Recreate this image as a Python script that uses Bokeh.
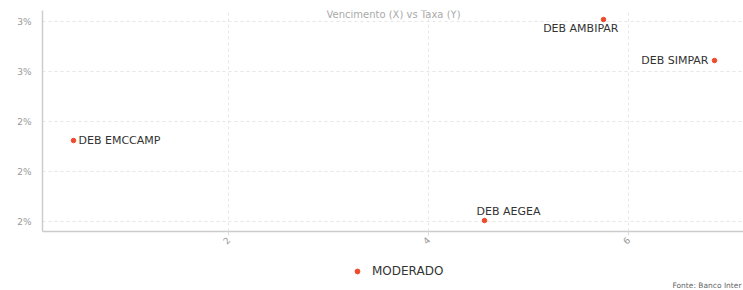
from bokeh.plotting import figure
from bokeh.layouts import column
from bokeh.models import (ColumnDataSource, Range1d, FixedTicker, PrintfTickFormatter,
                          Label, Legend, LegendItem)
from bokeh.core.properties import value
from bokeh.embed import file_html
from bokeh.resources import INLINE

# ---- data ----
names = ["DEB EMCCAMP", "DEB AEGEA", "DEB AMBIPAR", "DEB SIMPAR"]
vencimento = [0.45, 4.56, 5.75, 6.86]      # X
taxa = [2.324, 2.004, 2.808, 2.644]         # Y (%)
series_name = "MODERADO"
title_text = "Vencimento (X) vs Taxa (Y)"
source_text = "Fonte: Banco Inter"
x_ticks = [2, 4, 6]
y_ticks = [2.0, 2.2, 2.4, 2.6, 2.8]

# label placement per point (style only)
text_align = ["left", "left", "right", "right"]
x_off = [5, -8, 15, -6]
y_off = [0, -9, 9, 0]

FONT = "DejaVu Sans"
RED = "#ee4a2b"

src = ColumnDataSource(dict(x=vencimento, y=taxa, name=names, align=text_align,
                            xo=x_off, yo=y_off))

p = figure(width=743, height=255, output_backend="svg", toolbar_location=None,
           x_range=Range1d(0.14, 7.15), y_range=Range1d(1.96, 2.844),
           min_border_left=42, min_border_right=0, min_border_top=10,
           min_border_bottom=24)
p.outline_line_color = None

r = p.scatter("x", "y", source=src, size=4.5, color=RED, line_color=RED)
p.text("x", "y", text="name", source=src, text_align="align", text_baseline="middle",
       x_offset="xo", y_offset="yo", text_font=value(FONT), text_font_size="11px",
       text_color="#333333")

# axes
p.xaxis.ticker = FixedTicker(ticks=x_ticks)
p.yaxis.ticker = FixedTicker(ticks=y_ticks)
p.yaxis.formatter = PrintfTickFormatter(format="%.0f%%")
for ax in (p.xaxis[0], p.yaxis[0]):
    ax.axis_line_color = "#cccccc"
    ax.axis_line_width = 1.5
    ax.major_label_text_color = "#999999"
    ax.major_label_text_font = FONT
    ax.major_label_text_font_size = "9px"
    ax.minor_tick_line_color = None
p.yaxis.major_tick_line_color = None
p.xaxis.major_tick_line_color = "#dddddd"
p.xaxis.major_tick_in = 0
p.xaxis.major_tick_out = 4
p.xaxis.major_label_orientation = 0.8
p.xaxis.major_label_standoff = 3
p.yaxis.major_label_standoff = 5

p.xgrid.grid_line_color = "#e6e6e6"
p.ygrid.grid_line_color = "#e6e6e6"
p.xgrid.grid_line_dash = "3 3"
p.ygrid.grid_line_dash = "3 3"

# title (drawn inside the top of the frame)
p.add_layout(Label(x=351, y=217, x_units="screen", y_units="screen", text=title_text,
                   text_align="center", text_baseline="middle", text_font=FONT,
                   text_font_size="10px", text_color="#aaaaaa"))

# bottom strip: legend + source note
leg = figure(width=743, height=35, output_backend="svg", toolbar_location=None,
             x_range=Range1d(0, 1), y_range=Range1d(0, 1),
             min_border_left=42, min_border_right=0, min_border_top=0,
             min_border_bottom=0)
leg.axis.visible = False
leg.grid.visible = False
leg.outline_line_color = None
# same series, outside this strip's view, only used to feed the legend glyph
r2 = leg.scatter(vencimento, taxa, size=5, color=RED, line_color=RED)
legend = Legend(items=[LegendItem(label=series_name, renderers=[r2])],
                orientation="horizontal", location=(309, 12),
                label_text_font=FONT, label_text_font_size="12px",
                label_text_color="#333333", border_line_color=None,
                background_fill_alpha=0, glyph_width=12, glyph_height=12,
                label_standoff=9, margin=0, padding=4)
leg.add_layout(legend, "center")
leg.add_layout(Label(x=699, y=5, x_units="screen", y_units="screen", text=source_text,
                     text_align="right", text_baseline="middle", text_font=FONT,
                     text_font_size="7.5px", text_color="#666666"))

open("out.html", "w").write(file_html(column(p, leg, spacing=0), INLINE))
